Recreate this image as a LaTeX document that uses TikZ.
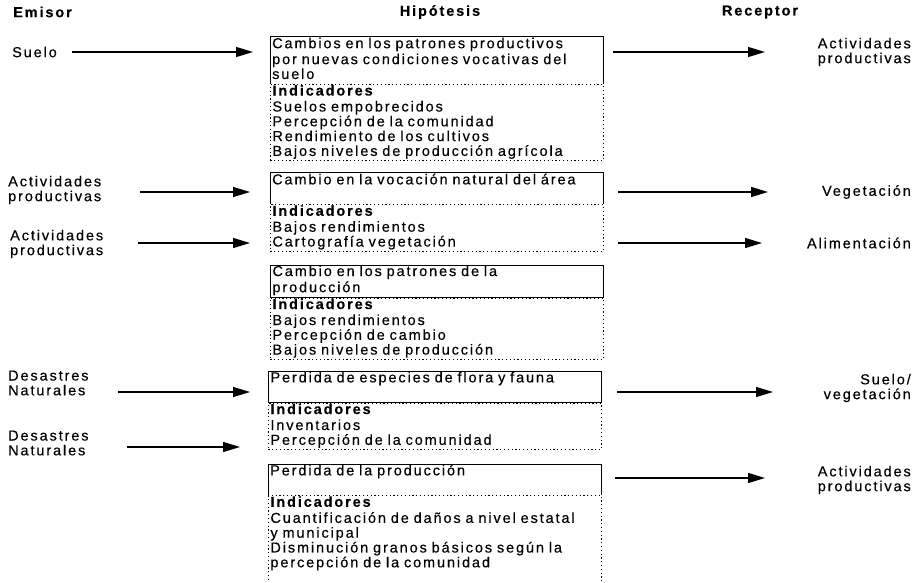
\documentclass[tikz,border=0pt]{standalone}
\usepackage{fontspec}
\setmainfont{Liberation Sans}[LetterSpace=13, WordSpace=1.5, FakeBold=0.3]
\usetikzlibrary{arrows.meta,positioning}

\begin{document}
\begin{tikzpicture}[
    x=1pt, y=-1pt,
    >={Triangle[length=17pt,width=10pt]},
    every node/.style={
        font=\fontsize{14.5}{14.8}\selectfont,
        inner sep=0pt
    },
    header/.style={
        font=\fontsize{14.5}{14.8}\selectfont\bfseries
    },
    emisor/.style={
        anchor=west,
        align=left
    },
    receptor/.style={
        anchor=east,
        align=right
    },
    hypothesis/.style={
        anchor=north west,
        text width=329pt,
        align=left,
        inner xsep=2pt,
        inner ysep=0.5pt,
        execute at begin node=\strut,
        execute at end node=\strut
    },
    indicators/.style={
        hypothesis,
        draw,
        line width=0.9pt,
        dash pattern=on 1.2pt off 2.6pt
    },
    frame/.style={
        draw=black,
        line width=1pt
    },
    flow/.style={
        ->,
        line width=1.3pt
    }
]

\useasboundingbox (0,0) rectangle (914,583);

% Horizontal positions
\def\HypX{270}
\def\RecX{911}

% ==================================================
% Column headers
% ==================================================

\node[header, anchor=west] (emhead) at (13,12) {Emisor};
\node[header] (hyphead) at (440,12) {Hipótesis};
\node[header] (rechead) at (760,12) {Receptor};

% ==================================================
% Suelo
% ==================================================

\node[emisor] (em1) at (12,52) {Suelo};

\node[hypothesis] (h1) at (\HypX,37)
    {Cambios en los patrones productivos\\por nuevas condiciones vocativas del\\suelo};
\node[indicators] (i1) at (h1.south west)
    {\textbf{Indicadores}\\Suelos empobrecidos\\Percepción de la comunidad\\Rendimiento de los cultivos\\Bajos niveles de producción agrícola};
\draw[frame] (h1.south west) |- (h1.north east) -- (h1.south east);

\node[receptor] (re1) at (\RecX,52) {Actividades\\productivas};

\coordinate (a1) at (72,52);
\coordinate (b1) at (253,52);
\coordinate (c1) at (613,52);
\coordinate (d1) at (765,52);
\draw[flow] (a1) -- (b1);
\draw[flow] (c1) -- (d1);

% ==================================================
% Actividades productivas -> Vegetación
% ==================================================

\node[emisor] (em2) at (8,190) {Actividades\\productivas};

\node[hypothesis] (h2) at (\HypX,173)
    {Cambio en la vocación natural del área\\};
\node[indicators] (i2) at (h2.south west)
    {\textbf{Indicadores}\\Bajos rendimientos\\Cartografía vegetación};
\draw[frame] (h2.south west) |- (h2.north east) -- (h2.south east);

\node[receptor] (re2) at (\RecX,192) {Vegetación};

\coordinate (a2) at (140,192);
\coordinate (b2) at (250,192);
\coordinate (c2) at (618,192);
\coordinate (d2) at (768,192);
\draw[flow] (a2) -- (b2);
\draw[flow] (c2) -- (d2);

% ==================================================
% Actividades productivas -> Alimentación
% ==================================================

\node[emisor] (em3) at (10,244) {Actividades\\productivas};

\node[indicators] (i3) at (\HypX,297.6)
    {\textbf{Indicadores}\\Bajos rendimientos\\Percepción de cambio\\Bajos niveles de producción};
\node[hypothesis, frame] (h3) at (i3.north west)
    [anchor=south west] {Cambio en los patrones de la\\producción};

\node[receptor] (re3) at (\RecX,243) {Alimentación};

\coordinate (a3) at (138,243);
\coordinate (b3) at (250,243);
\coordinate (c3) at (618,243);
\coordinate (d3) at (762,243);
\draw[flow] (a3) -- (b3);
\draw[flow] (c3) -- (d3);

% ==================================================
% Desastres naturales -> Suelo/vegetación
% ==================================================

\node[emisor] (em4) at (8,383) {Desastres\\Naturales};

\node[indicators] (i4) at (268,402.6)
    {\textbf{Indicadores}\\Inventarios\\Percepción de la comunidad};
\node[hypothesis, frame] (h4) at (i4.north west)
    [anchor=south west] {Perdida de especies de flora y fauna\\};

\node[receptor] (re4) at (\RecX,388) {Suelo/\\vegetación};

\coordinate (a4) at (118,392);
\coordinate (b4) at (250,392);
\coordinate (c4) at (617,392);
\coordinate (d4) at (773,392);
\draw[flow] (a4) -- (b4);
\draw[flow] (c4) -- (d4);

% ==================================================
% Desastres naturales -> Actividades productivas
% ==================================================

\node[emisor] (em5) at (8,443) {Desastres\\Naturales};

\node[hypothesis] (h5) at (268,464)
    {Perdida de la producción\\};
\node[indicators] (i5) at (h5.south west)
    {\textbf{Indicadores}\\Cuantificación de daños a nivel estatal\\y municipal\\Disminución granos básicos según la\\percepción de la comunidad\\\mbox{}\\};
\draw[frame] (h5.south west) |- (h5.north east) -- (h5.south east);

\node[receptor] (re5) at (\RecX,480) {Actividades\\productivas};

\coordinate (a5) at (127,447);
\coordinate (b5) at (240,447);
\coordinate (c5) at (615,478);
\coordinate (d5) at (765,478);
\draw[flow] (a5) -- (b5);
\draw[flow] (c5) -- (d5);

\end{tikzpicture}
\end{document}
